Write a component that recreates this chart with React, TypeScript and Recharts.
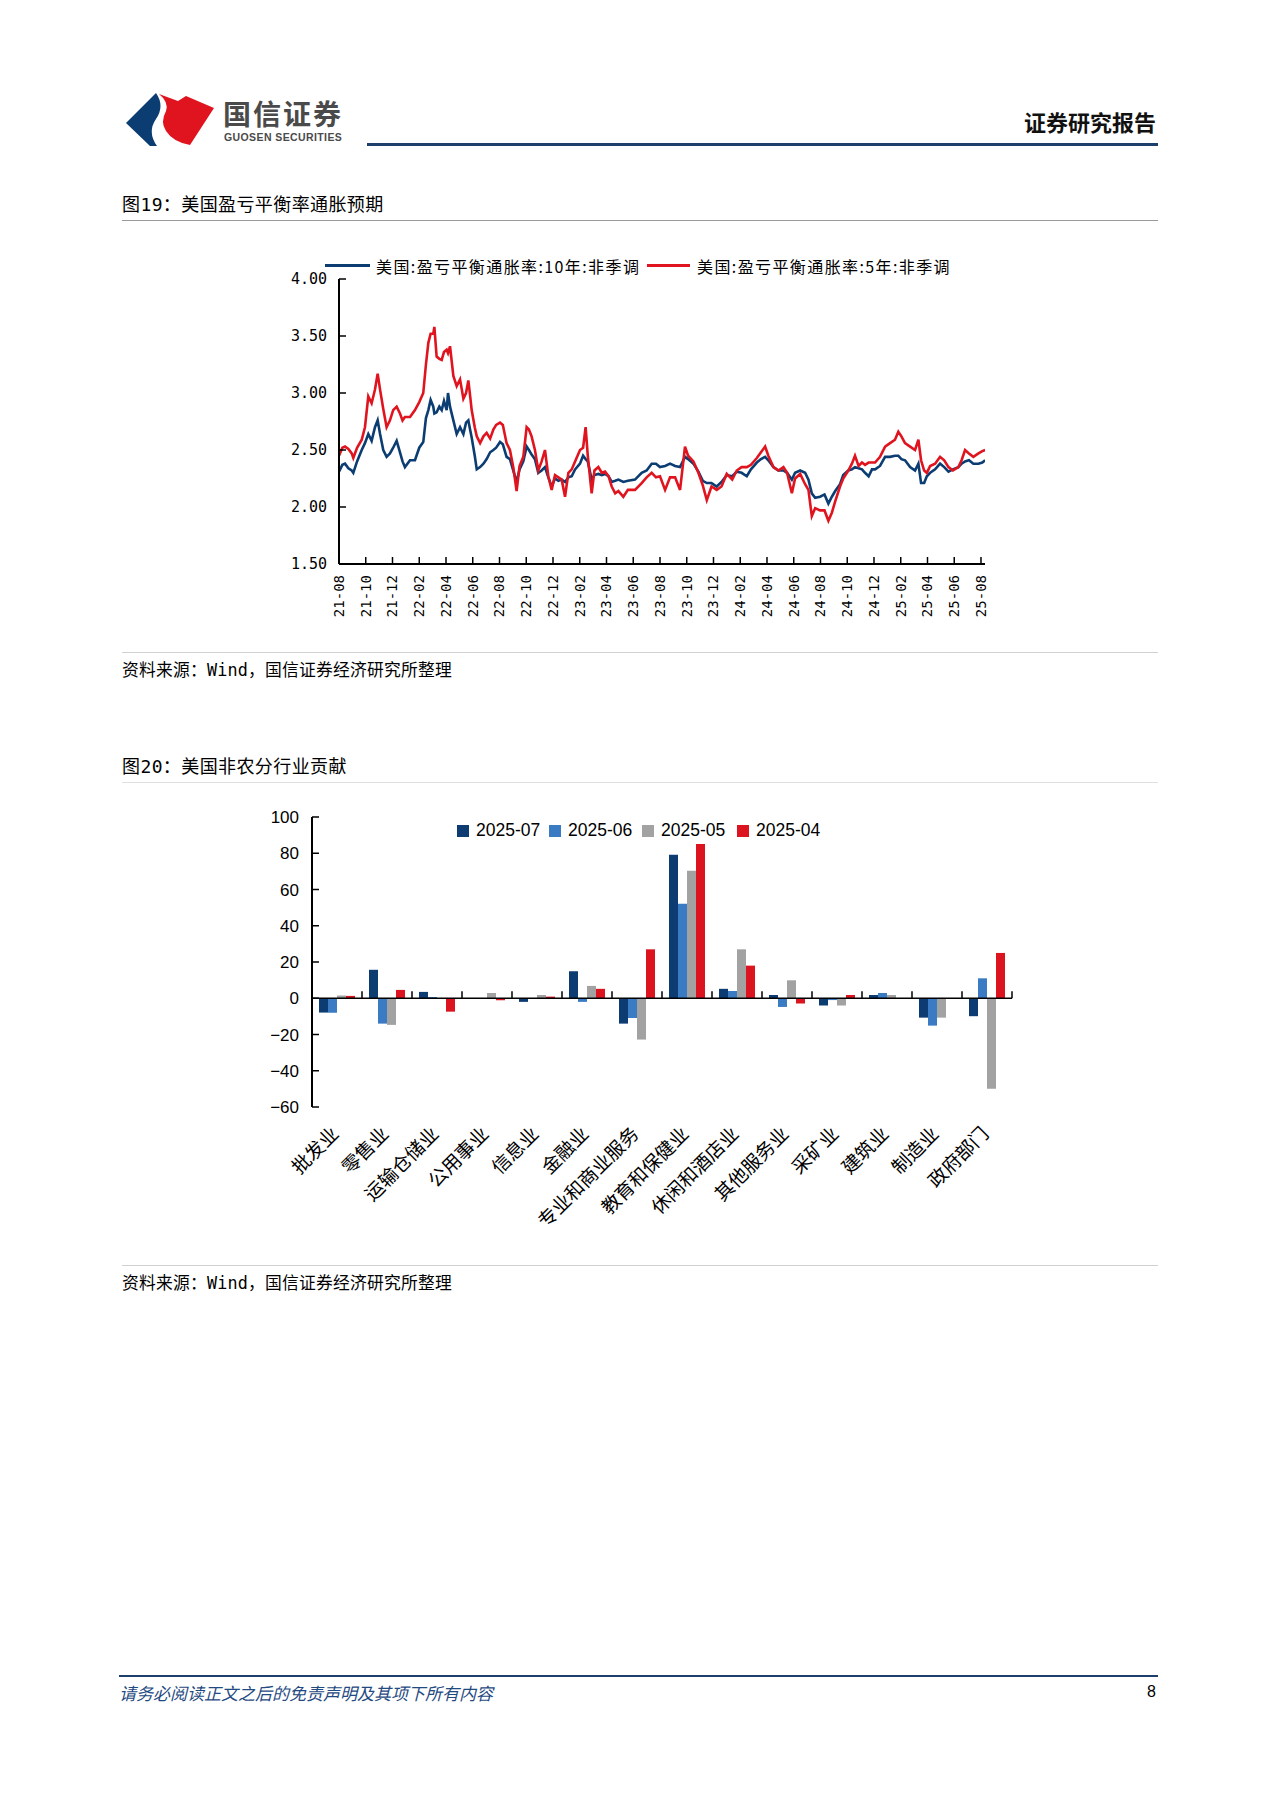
import React from 'react';
import { LineChart, Line, BarChart, Bar, XAxis, YAxis, ReferenceLine } from 'recharts';

// ---- 图19 data: months since 2021-08-01, breakeven inflation (%) ----
const monthOffset = [
  0, 0.25, 0.45, 0.7, 0.95, 1.07, 1.35, 1.7, 1.94, 2.19, 2.44, 2.69, 2.89, 3.07, 3.31, 3.56, 3.81,
  4.05, 4.31, 4.56, 4.75, 4.93, 5.31, 5.68, 6.0, 6.3, 6.5, 6.68, 6.85, 7.05, 7.13, 7.3, 7.5, 7.68,
  7.85, 8.05, 8.15, 8.3, 8.55, 8.8, 9.05, 9.3, 9.5, 9.67, 9.8, 9.92, 10.15, 10.3, 10.55, 10.8, 11.04,
  11.3, 11.54, 11.75, 12.04, 12.25, 12.53, 12.78, 13.03, 13.28, 13.5, 13.78, 14.03, 14.2, 14.4,
  14.65, 14.9, 15.15, 15.4, 15.65, 15.9, 16.15, 16.4, 16.65, 16.9, 17.15, 17.4, 17.65, 18.02, 18.25,
  18.44, 18.6, 18.89, 19.1, 19.39, 19.65, 19.89, 20.15, 20.39, 20.65, 20.89, 21.26, 21.6, 22.13,
  22.63, 23.0, 23.38, 23.7, 24.0, 24.38, 24.75, 25.13, 25.5, 25.87, 26.1, 26.5, 26.87, 27.2, 27.5,
  27.85, 28.24, 28.6, 28.99, 29.4, 29.74, 30.1, 30.49, 30.8, 31.24, 31.55, 31.86, 32.1, 32.48,
  32.85, 33.23, 33.5, 33.86, 34.1, 34.48, 34.85, 35.1, 35.35, 35.6, 35.97, 36.3, 36.59, 36.85,
  37.1, 37.46, 37.7, 38.08, 38.35, 38.58, 38.85, 39.1, 39.33, 39.6, 39.85, 40.08, 40.45, 40.83,
  41.2, 41.57, 41.82, 42.05, 42.32, 42.7, 43.07, 43.32, 43.52, 43.75, 43.95, 44.2, 44.57, 44.94,
  45.25, 45.57, 45.9, 46.31, 46.55, 46.81, 47.1, 47.43, 47.81, 48.1, 48.31,
];
const be10y = [
  2.31, 2.37, 2.38, 2.34, 2.32, 2.30, 2.40, 2.50, 2.56, 2.64, 2.58, 2.70, 2.76, 2.64, 2.50, 2.44, 2.47,
  2.52, 2.58, 2.48, 2.40, 2.35, 2.41, 2.41, 2.52, 2.57, 2.78, 2.85, 2.94, 2.88, 2.82, 2.83, 2.88, 2.85,
  2.93, 2.85, 3.00, 2.88, 2.76, 2.64, 2.70, 2.64, 2.74, 2.76, 2.68, 2.61, 2.45, 2.33, 2.35, 2.38, 2.42,
  2.48, 2.50, 2.52, 2.57, 2.55, 2.44, 2.42, 2.32, 2.22, 2.33, 2.40, 2.53, 2.50, 2.46,
  2.42, 2.30, 2.32, 2.35, 2.26, 2.18, 2.25, 2.23, 2.24, 2.22, 2.26, 2.27, 2.33, 2.38, 2.45,
  2.42, 2.40, 2.24, 2.28, 2.29, 2.28, 2.29, 2.27, 2.22, 2.23, 2.24, 2.22, 2.23, 2.24,
  2.30, 2.32, 2.38, 2.38, 2.35, 2.36, 2.38, 2.36, 2.35, 2.44, 2.42, 2.38, 2.31, 2.23, 2.21,
  2.21, 2.18, 2.22, 2.28, 2.27, 2.31, 2.30, 2.27, 2.33, 2.39, 2.42, 2.44, 2.41, 2.35,
  2.32, 2.32, 2.30, 2.24, 2.30, 2.32, 2.30, 2.24, 2.12, 2.08, 2.09, 2.11, 2.03, 2.09,
  2.14, 2.20, 2.28, 2.32, 2.33, 2.35, 2.34, 2.33, 2.30, 2.27, 2.33, 2.33, 2.36, 2.44,
  2.44, 2.45, 2.45, 2.42, 2.41, 2.35, 2.32, 2.38, 2.21, 2.21, 2.27, 2.30, 2.33, 2.38,
  2.35, 2.31, 2.33, 2.35, 2.38, 2.40, 2.41, 2.38, 2.38, 2.39, 2.41,
];
const be5y = [
  2.45, 2.52, 2.53, 2.51, 2.47, 2.43, 2.52, 2.59, 2.70, 2.97, 2.91, 3.03, 3.17, 3.03, 2.86, 2.70, 2.76,
  2.85, 2.88, 2.82, 2.76, 2.79, 2.79, 2.85, 2.92, 3.00, 3.25, 3.44, 3.52, 3.52, 3.58, 3.32, 3.30, 3.29,
  3.36, 3.38, 3.35, 3.41, 3.15, 3.06, 3.12, 2.95, 3.00, 3.11, 2.98, 2.85, 2.70, 2.62, 2.56, 2.62, 2.65,
  2.60, 2.68, 2.72, 2.74, 2.72, 2.56, 2.50, 2.35, 2.14, 2.36, 2.44, 2.70, 2.68, 2.62,
  2.50, 2.32, 2.40, 2.50, 2.27, 2.15, 2.28, 2.26, 2.24, 2.09, 2.30, 2.33, 2.40, 2.50, 2.52,
  2.70, 2.45, 2.12, 2.32, 2.35, 2.30, 2.31, 2.27, 2.18, 2.12, 2.14, 2.09, 2.15, 2.15,
  2.21, 2.26, 2.30, 2.26, 2.27, 2.15, 2.26, 2.26, 2.15, 2.53, 2.45, 2.40, 2.30, 2.19, 2.06,
  2.18, 2.15, 2.18, 2.29, 2.24, 2.32, 2.35, 2.35, 2.37, 2.43, 2.48, 2.53, 2.45, 2.35,
  2.32, 2.35, 2.30, 2.12, 2.25, 2.29, 2.20, 2.15, 1.92, 1.99, 1.97, 1.97, 1.88, 1.95,
  2.05, 2.18, 2.25, 2.32, 2.38, 2.45, 2.36, 2.39, 2.37, 2.39, 2.39, 2.39, 2.44, 2.53,
  2.56, 2.59, 2.66, 2.62, 2.56, 2.53, 2.50, 2.59, 2.41, 2.32, 2.30, 2.36, 2.38, 2.44,
  2.41, 2.35, 2.32, 2.35, 2.41, 2.50, 2.47, 2.44, 2.47, 2.49, 2.50,
];
const monthTickLabels = [
  '21-08', '21-10', '21-12', '22-02', '22-04', '22-06', '22-08', '22-10', '22-12', '23-02', '23-04',
  '23-06', '23-08', '23-10', '23-12', '24-02', '24-04', '24-06', '24-08', '24-10', '24-12', '25-02',
  '25-04', '25-06', '25-08',
];
const rateTicks = [1.5, 2, 2.5, 3, 3.5, 4];

// ---- 图20 data: nonfarm payroll change by sector (thousand) ----
const sectors = [
  '批发业', '零售业', '运输仓储业', '公用事业', '信息业', '金融业', '专业和商业服务',
  '教育和保健业', '休闲和酒店业', '其他服务业', '采矿业', '建筑业', '制造业', '政府部门',
];
const nfpJul = [-7.9, 15.7, 3.5, 0, -2, 14.9, -14, 79.2, 5.2, 1.8, -4, 1.8, -10.7, -9.9];
const nfpJun = [-8, -14, 0.7, 0, 0, -2, -10.9, 52.1, 4, -4.8, -1, 2.9, -15.1, 11];
const nfpMay = [1.5, -14.7, 0, 2.9, 1.8, 6.8, -22.8, 70.3, 27, 9.9, -4, 1.8, -10.7, -49.9];
const nfpApr = [1.3, 4.6, -7.4, -1.1, 0.9, 5.2, 27, 85.1, 18, -2.9, 1.8, 0, 0, 25];
const contribTicks = [-60, -40, -20, 0, 20, 40, 60, 80, 100];

const CJK = "'Noto Sans CJK SC', 'Noto Sans', sans-serif";
const MONO = "'DejaVu Sans Mono', 'Noto Sans CJK SC', monospace";
const SANS = "'Liberation Sans', Arial, sans-serif";
const NAVY = '#0b3d73';
const RED = '#e0141f';

const lineData = monthOffset.map((m, i) => ({ m, be10: be10y[i], be5: be5y[i] }));
const barData = sectors.map((name, i) => ({
  name,
  jul: nfpJul[i],
  jun: nfpJun[i],
  may: nfpMay[i],
  apr: nfpApr[i],
}));

const MonthTick = (props: any) => {
  const { x, y, payload } = props;
  const label = monthTickLabels[Math.round(payload.value / 2)];
  return (
    <text
      x={x}
      y={y}
      transform={`rotate(-90 ${x} ${y})`}
      textAnchor="end"
      dy="0.35em"
      fontSize={14}
      fontFamily={MONO}
      fill="#000"
    >
      {label}
    </text>
  );
};

const SectorTick = (props: any) => {
  const { x, y, payload } = props;
  const ax = x + 3;
  return (
    <text
      x={ax}
      y={y}
      transform={`rotate(-45 ${ax} ${y})`}
      textAnchor="end"
      fontSize={19}
      fontFamily={CJK}
      fill="#000"
    >
      {payload.value}
    </text>
  );
};

// small tick on the zero line at the right edge of each category band
const BoundaryTick = (props: any) => {
  const { x1, y1, y2 } = props;
  const top = Math.min(y1, y2);
  const bottom = Math.max(y1, y2);
  const hi = contribTicks[contribTicks.length - 1];
  const lo = contribTicks[0];
  const zeroY = top + ((bottom - top) * hi) / (hi - lo);
  return <line x1={x1} x2={x1} y1={zeroY} y2={zeroY - 7} stroke="#000" strokeWidth={1.5} />;
};

const Label = ({ x, y, size, children, style }: any) => (
  <div
    style={{
      position: 'absolute',
      left: x,
      top: y,
      transform: 'translateY(-50%)',
      fontSize: size,
      lineHeight: 1,
      whiteSpace: 'nowrap',
      ...style,
    }}
  >
    {children}
  </div>
);

const HLine = ({ x1, x2, y, h, color }: any) => (
  <div style={{ position: 'absolute', left: x1, top: y - h / 2, width: x2 - x1, height: h, background: color }} />
);

const Header = () => (
  <>
    <svg style={{ position: 'absolute', left: 126, top: 92 }} width={90} height={54} viewBox="0 0 90 54">
      <path d="M0 31 L30 1 Q39 14 30 27 Q21 40 31 54 L24 54 Z" fill={NAVY} />
      <path d="M33 2 L52 9 L60 4 L88 16 L64 53 Q47 50 40 39 Q34 30 40 19 Q43 10 33 2 Z" fill={RED} />
    </svg>
    <Label x={223} y={113} size={28} style={{ fontFamily: CJK, fontWeight: 700, color: '#4a4a4a', letterSpacing: 2 }}>
      国信证券
    </Label>
    <Label x={224} y={137} size={10.5} style={{ fontFamily: SANS, fontWeight: 700, color: '#4a4a4a', letterSpacing: 0.4 }}>
      GUOSEN SECURITIES
    </Label>
    <Label x={1024} y={121} size={22} style={{ fontFamily: CJK, fontWeight: 700, color: '#111' }}>
      证券研究报告
    </Label>
    <HLine x1={367} x2={1158} y={144.5} h={3.5} color="#1c3f6b" />
  </>
);

const LineLegend = () => (
  <>
    <div style={{ position: 'absolute', left: 325, top: 264, width: 45, height: 3, background: NAVY }} />
    <Label x={376} y={266} size={16} style={{ fontFamily: CJK, letterSpacing: 1.4 }}>
      美国:盈亏平衡通胀率:10年:非季调
    </Label>
    <div style={{ position: 'absolute', left: 647, top: 264, width: 43, height: 3, background: RED }} />
    <Label x={697} y={266} size={16} style={{ fontFamily: CJK, letterSpacing: 1.4 }}>
      美国:盈亏平衡通胀率:5年:非季调
    </Label>
  </>
);

const barSeries = [
  { key: 'jul', label: '2025-07', color: '#0d3c73', lx: 457 },
  { key: 'jun', label: '2025-06', color: '#3a7bc4', lx: 549 },
  { key: 'may', label: '2025-05', color: '#a2a2a2', lx: 642 },
  { key: 'apr', label: '2025-04', color: '#dc1420', lx: 737 },
];

const BarLegend = () => (
  <>
    {barSeries.map((s) => (
      <React.Fragment key={s.key}>
        <div style={{ position: 'absolute', left: s.lx, top: 824.5, width: 12, height: 12, background: s.color }} />
        <Label x={s.lx + 19} y={831} size={17.5} style={{ fontFamily: SANS }}>
          {s.label}
        </Label>
      </React.Fragment>
    ))}
  </>
);

export default function App() {
  return (
    <div
      style={{
        position: 'absolute',
        left: 0,
        top: 0,
        width: 1280,
        height: 1810,
        background: '#fff',
        color: '#000',
        fontFamily: CJK,
        overflow: 'hidden',
      }}
    >
      <Header />

      <Label x={122} y={205} size={18} style={{ fontFamily: MONO, letterSpacing: 0.4 }}>
        图19：美国盈亏平衡率通胀预期
      </Label>
      <HLine x1={122} x2={1158} y={220.5} h={1} color="#9a9a9a" />

      <LineLegend />
      <div style={{ position: 'absolute', left: 270, top: 240 }}>
        <LineChart width={730} height={400} data={lineData} margin={{ top: 39, right: 15, bottom: 16, left: 9 }}>
          <XAxis
            dataKey="m"
            type="number"
            domain={[0, 48.3]}
            allowDataOverflow
            ticks={monthTickLabels.map((_, i) => i * 2)}
            interval={0}
            height={60}
            tick={<MonthTick />}
            tickSize={-7}
            tickMargin={18}
            axisLine={{ stroke: '#000', strokeWidth: 2 }}
            tickLine={{ stroke: '#000', strokeWidth: 1.5 }}
          />
          <YAxis
            width={60}
            domain={[1.5, 4]}
            ticks={rateTicks}
            interval={0}
            tickFormatter={(v: number) => v.toFixed(2)}
            tick={{ fontSize: 15, fontFamily: MONO, fill: '#000' }}
            tickSize={-7}
            tickMargin={19}
            axisLine={{ stroke: '#000', strokeWidth: 2 }}
            tickLine={{ stroke: '#000', strokeWidth: 1.5 }}
          />
          <Line dataKey="be10" stroke={NAVY} strokeWidth={2.6} dot={false} isAnimationActive={false} />
          <Line dataKey="be5" stroke={RED} strokeWidth={2.6} dot={false} isAnimationActive={false} />
        </LineChart>
      </div>

      <HLine x1={122} x2={1158} y={652} h={1} color="#d0d0d0" />
      <Label x={122} y={670} size={16.8} style={{ fontFamily: MONO, letterSpacing: 0.2 }}>
        资料来源：Wind，国信证券经济研究所整理
      </Label>

      <Label x={122} y={767} size={18} style={{ fontFamily: MONO, letterSpacing: 0.4 }}>
        图20：美国非农分行业贡献
      </Label>
      <HLine x1={122} x2={1158} y={782} h={1} color="#e0e0e0" />

      <BarLegend />
      <div style={{ position: 'absolute', left: 230, top: 780 }}>
        <BarChart
          width={800}
          height={470}
          data={barData}
          margin={{ top: 37, right: 18, bottom: 13, left: 22 }}
          barSize={9}
          barGap={0}
        >
          <XAxis
            dataKey="name"
            interval={0}
            height={130}
            tick={<SectorTick />}
            tickSize={0}
            tickMargin={28}
            axisLine={false}
            tickLine={false}
          />
          <YAxis
            width={60}
            domain={[-60, 100]}
            ticks={contribTicks}
            interval={0}
            tickFormatter={(v: number) => String(v).replace('-', '\u2212')}
            tick={{ fontSize: 17, fontFamily: SANS, fill: '#000' }}
            tickSize={-7}
            tickMargin={20}
            axisLine={{ stroke: '#000', strokeWidth: 2 }}
            tickLine={{ stroke: '#000', strokeWidth: 1.5 }}
          />
          {barSeries.map((s) => (
            <Bar key={s.key} dataKey={s.key} fill={s.color} isAnimationActive={false} />
          ))}
          <ReferenceLine y={0} stroke="#000" strokeWidth={1.5} />
          {sectors.map((name) => (
            <ReferenceLine key={name} x={name} position="end" shape={<BoundaryTick />} />
          ))}
        </BarChart>
      </div>

      <HLine x1={122} x2={1158} y={1265} h={1} color="#d0d0d0" />
      <Label x={122} y={1283} size={16.8} style={{ fontFamily: MONO, letterSpacing: 0.2 }}>
        资料来源：Wind，国信证券经济研究所整理
      </Label>

      <HLine x1={119} x2={1158} y={1676} h={1.5} color="#1c3f6b" />
      <Label x={119} y={1692} size={17} style={{ fontFamily: CJK, fontStyle: 'italic', color: '#1f4a82' }}>
        请务必阅读正文之后的免责声明及其项下所有内容
      </Label>
      <Label x={1147} y={1692} size={16} style={{ fontFamily: SANS }}>
        8
      </Label>
    </div>
  );
}
